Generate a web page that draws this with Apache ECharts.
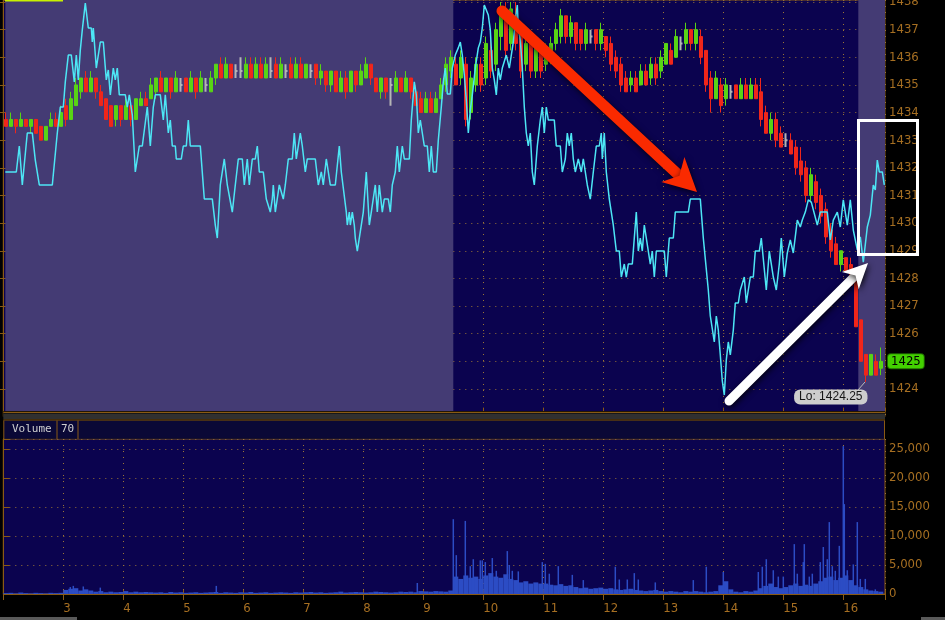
<!DOCTYPE html>
<html><head><meta charset="utf-8">
<script src="https://cdn.jsdelivr.net/npm/echarts@6.0.0/dist/echarts.min.js"></script>
<style>html,body{margin:0;padding:0;background:#000;}#c{width:945px;height:620px;}</style>
</head><body><div id="c"></div><script>
// ---------- DATA ----------
// 5-minute bars, starting 2:00 (minutes since 2:00)
const candleOpen = [
1433.75,1433.5,1433.75,1433.5,1433.75,1433.5,1433.75,1433.5,1433.0,1433.5,
1433.75,1433.5,1434.25,1433.75,1434.25,1434.75,1435.25,1434.75,1435.25,1434.75,
1434.5,1434.25,1433.75,1434.25,1433.75,1434.25,1433.75,1434.25,1434.5,1434.5,
1434.75,1435.25,1434.75,1435.25,1434.75,1435.0,1435.25,1434.75,1435.25,1434.75,
1435.0,1434.75,1435.25,1435.75,1435.25,1435.75,1435.5,1435.5,1435.25,1435.75,
1435.25,1435.75,1435.25,1435.5,1435.75,1435.25,1435.5,1435.75,1435.25,1435.75,
1435.25,1435.5,1435.75,1435.25,1435.5,1435.0,1435.5,1434.75,1435.25,1434.75,
1435.5,1435.0,1435.25,1435.75,1435.25,1434.75,1435.25,1435.0,1434.75,1435.25,
1434.75,1435.25,1434.75,1434.5,1434.0,1434.5,1434.0,1434.5,1435.0,1435.5,
1435.75,1435.25,1435.75,1434.0,1435.0,1435.75,1435.25,1436.25,1435.75,1436.75,
1437.5,1436.5,1437.5,1436.75,1435.75,1436.5,1435.5,1436.25,1435.75,1436.0,
1436.5,1436.75,1437.5,1436.75,1437.25,1437.0,1436.5,1436.75,1437.0,1436.5,
1436.75,1436.5,1436.0,1435.75,1435.25,1435.0,1435.25,1435.0,1435.5,1435.25,
1435.75,1435.5,1435.75,1436.25,1436.0,1436.5,1436.5,1437.0,1436.5,1436.75,
1436.25,1435.25,1434.5,1435.0,1434.5,1434.75,1435.0,1434.5,1435.0,1434.5,
1435.0,1434.75,1434.0,1433.25,1433.75,1433.25,1433.0,1433.0,1432.75,1432.25,
1432.0,1431.0,1431.5,1431.0,1430.5,1429.75,1429.25,1428.5,1428.75,1428.5,
1428.0,1426.5,1425.25,1424.5,1425.0,1424.75];
const candleClose = [
1433.5,1433.75,1433.5,1433.75,1433.5,1433.75,1433.25,1433.0,1433.5,1433.75,
1433.5,1434.0,1433.75,1434.5,1435.0,1435.25,1434.75,1435.25,1434.75,1434.25,
1433.75,1433.5,1434.25,1433.75,1434.25,1433.75,1434.5,1434.5,1434.25,1435.0,
1435.25,1434.75,1435.25,1434.75,1435.25,1435.0,1434.75,1435.25,1434.75,1435.25,
1435.0,1435.25,1435.75,1435.25,1435.75,1435.25,1435.5,1435.5,1435.75,1435.25,
1435.75,1435.25,1435.75,1435.5,1435.25,1435.75,1435.5,1435.25,1435.75,1435.25,
1435.75,1435.5,1435.25,1435.5,1435.0,1435.5,1434.75,1435.25,1434.75,1435.5,
1435.0,1435.5,1435.75,1435.25,1434.75,1435.25,1434.75,1435.0,1435.25,1434.75,
1435.25,1434.75,1434.25,1434.0,1434.5,1434.0,1434.5,1435.0,1435.75,1436.0,
1435.0,1436.0,1433.75,1435.25,1435.75,1435.0,1436.5,1435.5,1437.0,1437.5,
1436.25,1437.75,1436.5,1435.5,1436.5,1435.5,1436.5,1435.5,1436.25,1436.5,
1437.0,1437.5,1436.75,1437.25,1436.5,1436.5,1437.0,1436.75,1436.5,1437.0,
1436.25,1435.75,1435.5,1435.0,1434.75,1435.25,1434.75,1435.5,1435.0,1435.75,
1435.25,1436.0,1436.5,1435.75,1436.75,1436.5,1437.0,1436.5,1437.0,1436.0,
1435.0,1434.5,1435.25,1434.25,1435.0,1434.75,1434.5,1435.0,1434.5,1435.0,
1434.5,1433.75,1433.25,1433.75,1433.0,1432.75,1433.0,1432.5,1432.0,1431.75,
1431.0,1431.75,1430.75,1430.25,1429.5,1429.0,1428.5,1429.0,1428.25,1427.75,
1426.25,1425.0,1424.5,1425.25,1424.5,1425.0];
const candleLow = [
1433.5,1433.5,1433.25,1433.5,1433.5,1433.25,1433.25,1433.0,1433.0,1433.5,
1433.5,1433.5,1433.5,1433.75,1434.25,1434.5,1434.75,1434.75,1434.5,1434.25,
1433.75,1433.5,1433.5,1433.5,1433.75,1433.5,1433.75,1434.25,1434.25,1434.5,
1434.5,1434.75,1434.75,1434.5,1434.75,1434.75,1434.75,1434.75,1434.5,1434.75,
1434.75,1434.75,1435.0,1435.25,1435.25,1435.25,1435.25,1435.25,1435.25,1435.25,
1435.25,1435.25,1435.25,1435.25,1435.25,1435.25,1435.25,1435.25,1435.25,1435.25,
1435.25,1435.25,1435.0,1435.0,1434.75,1434.75,1434.75,1434.75,1434.5,1434.75,
1434.75,1435.0,1435.25,1435.0,1434.75,1434.5,1434.5,1434.25,1434.75,1434.75,
1434.75,1434.5,1434.25,1434.0,1434.0,1434.0,1434.0,1434.5,1434.75,1435.25,
1435.0,1435.0,1433.5,1433.75,1434.75,1434.75,1435.0,1435.25,1435.5,1436.25,
1436.0,1436.25,1436.25,1435.25,1435.5,1435.25,1435.25,1435.25,1435.5,1435.75,
1436.25,1436.5,1436.5,1436.5,1436.25,1436.25,1436.25,1436.5,1436.25,1436.25,
1436.0,1435.5,1435.25,1434.75,1434.75,1434.75,1434.75,1435.0,1435.0,1435.0,
1435.0,1435.25,1435.75,1435.75,1436.0,1436.25,1436.25,1436.25,1436.25,1435.75,
1434.75,1434.0,1434.5,1434.0,1434.25,1434.5,1434.5,1434.5,1434.5,1434.5,
1434.5,1433.5,1433.25,1433.0,1432.75,1432.75,1432.75,1432.5,1431.75,1431.5,
1430.75,1430.75,1430.5,1430.0,1429.25,1428.75,1428.5,1428.25,1428.25,1427.75,
1426.25,1425.0,1424.25,1424.5,1424.5,1424.5];
const candleHigh = [
1434.0,1434.0,1433.75,1434.0,1433.75,1433.75,1433.75,1433.5,1433.5,1434.0,
1434.0,1434.25,1434.5,1434.75,1435.25,1435.25,1435.5,1435.5,1435.25,1435.0,
1434.5,1434.25,1434.25,1434.25,1434.5,1434.25,1434.5,1434.75,1434.75,1435.25,
1435.25,1435.5,1435.25,1435.25,1435.5,1435.25,1435.25,1435.5,1435.25,1435.5,
1435.25,1435.5,1435.75,1436.0,1436.0,1435.75,1435.75,1436.0,1436.0,1436.0,
1436.0,1436.0,1436.0,1436.0,1436.0,1436.0,1435.75,1436.0,1436.0,1436.0,
1435.75,1435.75,1435.75,1435.75,1435.5,1435.5,1435.5,1435.5,1435.5,1435.5,
1435.5,1435.75,1436.0,1435.75,1435.25,1435.25,1435.25,1435.25,1435.5,1435.25,
1435.5,1435.25,1435.0,1434.75,1434.75,1434.75,1434.75,1435.25,1436.0,1436.25,
1436.0,1436.25,1436.0,1435.5,1436.0,1436.0,1436.75,1436.75,1437.25,1438.0,
1438.0,1438.0,1438.0,1437.0,1436.75,1436.5,1436.75,1436.5,1436.5,1436.75,
1437.25,1437.75,1437.5,1437.5,1437.25,1437.0,1437.25,1437.0,1437.0,1437.25,
1436.75,1436.75,1436.25,1436.0,1435.5,1435.5,1435.5,1435.75,1435.75,1436.0,
1436.0,1436.25,1436.5,1436.5,1437.0,1436.75,1437.25,1437.0,1437.25,1437.0,
1436.25,1435.5,1435.5,1435.25,1435.25,1435.0,1435.0,1435.25,1435.25,1435.25,
1435.25,1435.25,1434.25,1434.0,1434.0,1433.5,1433.25,1433.25,1433.0,1432.75,
1432.25,1432.0,1431.75,1431.25,1430.75,1430.0,1429.5,1429.0,1428.75,1428.75,
1428.25,1426.5,1425.25,1425.25,1425.25,1425.5];
// volume: 5-minute base level
const volBase = [
150,200,100,250,150,100,200,150,100,200,
150,200,700,900,1000,600,800,600,400,500,
300,400,300,350,500,300,400,300,350,300,
250,300,200,350,250,300,200,250,300,200,
250,300,350,200,300,250,200,300,250,350,
200,250,300,200,250,300,250,200,300,250,
300,350,250,300,200,250,300,400,250,300,
350,300,250,300,400,350,300,250,300,400,
350,400,300,500,450,400,500,450,400,600,
3000,2600,3200,2800,3000,2600,3200,3600,3000,2800,
3400,2600,2400,2000,2200,1800,2000,1800,1800,1600,
1500,1700,1400,1500,1200,1000,1100,900,1000,1100,
900,1000,800,700,800,900,700,600,500,600,
700,500,400,500,400,300,500,400,500,400,
300,400,500,1500,2200,800,400,300,500,400,
600,1000,1400,1800,1200,1000,1200,1500,1800,1400,
1600,1400,1800,2200,2800,3000,2400,2800,3200,2400,
1500,1200,800,600,500,400];
// individual volume spikes (minute since 2:00, volume)
const spikeTime = [67,70,80,97,213,414,450,453,462,467,470,477,479,482,489,493,504,506,509,515,539,542,546,555,569,580,612,616,624,631,635,652,690,703,720,755,759,763,770,775,780,791,794,800,801,806,809,817,820,824,826,829,832,836,840,841,844,850,854,857,862,872];
const spikeVol  = [1200,1400,1300,1100,1400,1900,12900,6700,12600,4800,6000,5800,5800,5500,6200,4000,7400,5000,4000,3900,5500,5200,3500,4800,3300,2400,4700,2500,2500,3600,2500,2000,2400,4700,3800,3800,4700,6000,4100,3000,3000,8600,3500,5500,8600,3000,3500,5500,8100,6000,12400,4800,4000,8300,25500,15500,4100,5100,12400,2600,2600,800];
// cyan indicator line (minute since 2:00, value on price scale)
const cyanTime = [2,13,16,19,24,29,32,34,36,49,54,57,60,62,65,68,71,73,75,77,79,82,85,88,89,90,93,97,100,103,105,107,110,112,114,116,122,124,126,129,132,136,139,144,147,150,152,157,160,162,165,167,169,172,173,178,180,183,185,187,197,201,209,212,214,217,221,224,226,229,232,235,239,241,244,246,249,252,254,256,260,263,265,267,269,270,272,274,276,278,280,282,285,289,291,293,297,299,301,302,304,312,315,317,318,320,323,325,327,332,336,338,340,343,344,346,347,349,351,352,354,356,358,360,363,366,368,370,372,374,376,379,381,385,387,389,392,394,396,399,401,406,408,411,413,415,417,419,421,424,426,428,430,433,435,438,440,442,444,447,449,452,455,457,459,461,463,465,467,469,472,475,477,479,481,483,485,487,489,491,493,495,497,499,501,503,506,508,510,512,514,515,517,519,521,523,525,527,529,531,534,537,539,541,543,545,551,553,557,559,562,564,566,568,570,572,575,578,580,582,584,587,590,593,596,598,599,601,603,606,610,613,616,618,621,623,625,629,631,633,635,637,639,641,643,645,647,649,651,653,661,663,666,670,672,685,687,697,700,705,707,709,711,713,715,717,719,721,723,725,727,730,732,735,737,739,741,743,745,747,750,752,756,758,760,763,766,768,770,773,776,778,781,784,787,790,794,797,799,802,805,808,810,814,817,824,827,830,834,837,840,844,847,850,854,857,860,864,867,870,872,874,876,879,881];
const cyanValue = [1431.85,1431.85,1432.79,1431.38,1433.26,1433.26,1432.28,1432.28,1431.38,1431.38,1433.26,1434.2,1434.2,1435.11,1436.08,1436.08,1435.11,1436.08,1435.18,1436.26,1436.99,1437.96,1437.06,1437.06,1436.55,1437.06,1435.61,1436.55,1436.55,1435.18,1435.54,1434.64,1435.61,1435.18,1435.61,1434.64,1434.64,1434.2,1434.64,1433.91,1431.85,1432.79,1432.79,1434.2,1432.79,1434.2,1434.64,1434.64,1433.73,1434.64,1433.26,1433.73,1432.79,1432.79,1432.32,1432.32,1432.79,1432.79,1433.73,1432.79,1432.79,1430.87,1430.87,1429.93,1429.46,1431.38,1432.32,1431.38,1431.38,1430.4,1431.38,1432.32,1432.32,1431.38,1432.32,1431.38,1432.32,1432.32,1432.79,1431.85,1431.85,1430.87,1430.87,1430.4,1430.87,1431.38,1430.4,1430.4,1431.38,1431.38,1430.87,1431.38,1432.32,1432.32,1433.26,1432.32,1433.26,1432.79,1432.79,1431.85,1432.32,1432.32,1431.38,1431.38,1431.85,1431.38,1432.32,1432.32,1431.38,1431.38,1432.79,1431.85,1431.85,1430.4,1429.93,1430.4,1429.93,1430.4,1429.93,1429.46,1428.99,1428.99,1429.93,1430.4,1431.85,1429.93,1430.4,1430.4,1431.38,1430.4,1431.38,1430.4,1430.87,1430.87,1430.4,1431.38,1431.85,1432.79,1431.85,1432.79,1432.32,1432.32,1433.73,1435.11,1434.64,1433.26,1433.73,1433.26,1432.79,1432.79,1431.85,1432.79,1431.85,1431.85,1433.0,1434.2,1435.11,1435.61,1434.67,1434.67,1435.61,1436.08,1436.34,1436.55,1436.08,1435.36,1434.45,1433.26,1434.09,1434.64,1435.61,1436.34,1436.55,1437.06,1437.89,1437.89,1437.53,1436.99,1435.61,1435.18,1434.64,1435.61,1435.18,1435.61,1435.61,1436.08,1435.61,1435.61,1436.55,1437.35,1437.89,1437.06,1436.63,1435.61,1434.2,1433.26,1432.79,1433.26,1431.85,1431.38,1432.79,1433.73,1434.2,1433.26,1434.2,1433.73,1433.73,1432.79,1432.79,1431.85,1432.32,1433.26,1432.79,1433.26,1432.32,1431.85,1432.32,1431.85,1432.32,1432.32,1431.38,1430.87,1431.85,1432.79,1432.79,1433.26,1432.32,1433.26,1431.85,1430.87,1429.93,1428.99,1428.99,1428.05,1428.52,1428.05,1428.52,1428.52,1429.46,1430.4,1428.99,1429.46,1428.99,1429.93,1429.93,1428.99,1428.52,1428.99,1428.05,1428.99,1428.99,1428.05,1429.46,1429.46,1430.4,1430.4,1430.87,1430.87,1429.46,1427.58,1426.64,1426.64,1425.7,1426.64,1426.13,1425.23,1424.29,1423.78,1425.05,1425.7,1425.23,1426.13,1427.11,1427.11,1427.58,1427.58,1428.05,1427.11,1427.58,1428.05,1428.05,1428.99,1428.99,1429.46,1429.46,1427.58,1428.99,1428.99,1428.05,1427.58,1428.52,1429.46,1428.05,1428.92,1429.39,1428.92,1430.11,1429.86,1430.11,1430.4,1430.84,1430.76,1430.76,1429.93,1430.4,1430.4,1429.39,1430.11,1430.4,1429.86,1430.84,1429.93,1430.84,1429.75,1429.03,1429.5,1428.59,1429.86,1430.29,1431.38,1431.2,1432.28,1431.85,1431.85,1431.38];
// session shading boundaries (minutes since 2:00): 9:30 and 16:15
const sessionOpen = 450, sessionClose = 855;

// ---------- STYLE ----------
const BAR_MIN = 5;
const X_MAX = 881.7;
const AX = '#8a5a14', LBL = '#a66f22', GRIDC = '#9a7436';
const LIGHT = '#443b74', DARK = '#0b034f';
const GREEN = '#58d415', RED = '#f0261a', GREY = '#b5b5b5';
const VOL = '#2c4cc4';
const LF = "'DejaVu Sans Condensed','Liberation Sans',sans-serif";
const isInt = v => Math.abs(v - Math.round(v)) < 1e-6;

const candleData = candleOpen.map((o, i) => {
  const c = candleClose[i];
  const item = { value: [i * BAR_MIN + BAR_MIN / 2, o, c, candleLow[i], candleHigh[i]] };
  if (o === c) item.itemStyle = { color: GREY, color0: GREY, borderColor: GREY, borderColor0: GREY, borderColorDoji: GREY, borderWidth: 2 };
  return item;
});
let lowIdx = 0;
candleLow.forEach((v, i) => { if (v < candleLow[lowIdx]) lowIdx = i; });
const lowVal = candleLow[lowIdx];
const lastClose = candleClose[candleClose.length - 1];

function arrowGraphic(x0, y0, x1, y1, w, hl, hw, color, shadowColor) {
  const dx = x1 - x0, dy = y1 - y0, L = Math.hypot(dx, dy), ux = dx / L, uy = dy / L, px = -uy, py = ux;
  const bx = x1 - ux * hl, by = y1 - uy * hl;
  const nx = bx + ux * hl * 0.2, ny = by + uy * hl * 0.2;
  const sh = { shadowBlur: 6, shadowColor: shadowColor, shadowOffsetX: 1, shadowOffsetY: 2 };
  return [
    { type: 'line', z: 100, shape: { x1: x0, y1: y0, x2: nx, y2: ny }, style: Object.assign({ stroke: color, lineWidth: w, lineCap: 'round' }, sh) },
    { type: 'polygon', z: 101, shape: { points: [[x1, y1], [bx + px * hw - ux * 3, by + py * hw - uy * 3], [nx, ny], [bx - px * hw - ux * 3, by - py * hw - uy * 3]] }, style: Object.assign({ fill: color }, sh) }
  ];
}

const xBase = { type: 'value', min: 0, max: X_MAX, interval: 60 };
const splitDots = { show: true, lineStyle: { color: GRIDC, width: 1, type: [1, 5] } };

const option = {
  backgroundColor: '#000',
  animation: false,
  grid: [
    { left: 3.3, top: 0, width: 881.7, height: 416.6, outerBoundsMode: 'none', containLabel: false, show: true, backgroundColor: DARK, borderColor: AX, borderWidth: 1 },
    { left: 3.3, top: 439, width: 881.7, height: 155, outerBoundsMode: 'none', containLabel: false, show: true, backgroundColor: DARK, borderColor: AX, borderWidth: 1 }
  ],
  xAxis: [
    Object.assign({}, xBase, { gridIndex: 0, offset: -5, axisLine: { show: false }, axisTick: { show: true, inside: true, length: 4, lineStyle: { color: AX } }, axisLabel: { show: false }, splitLine: splitDots }),
    Object.assign({}, xBase, { gridIndex: 1, position: 'bottom', axisLine: { show: true, lineStyle: { color: AX } }, axisTick: { show: true, inside: true, length: 4, lineStyle: { color: AX } },
      axisLabel: { show: true, color: LBL, fontSize: 13, fontFamily: LF, align: 'left', margin: 8, formatter: v => (isInt(v / 60) && v > 0) ? String(2 + Math.round(v / 60)) : '' },
      splitLine: splitDots }),
    Object.assign({}, xBase, { gridIndex: 1, position: 'top', axisLine: { show: false }, axisTick: { show: true, inside: true, length: 6, lineStyle: { color: AX } }, axisLabel: { show: false }, splitLine: { show: false } })
  ],
  yAxis: [
    { gridIndex: 0, type: 'value', position: 'right', min: 1423, max: 1438.072, interval: 1,
      axisLine: { show: true, lineStyle: { color: AX } }, axisTick: { show: true, inside: true, length: 5, lineStyle: { color: AX } },
      axisLabel: { color: LBL, fontSize: 13, fontFamily: LF, margin: 4, showMinLabel: false, showMaxLabel: false, formatter: v => (isInt(v) && v > 1423) ? String(Math.round(v)) : '' },
      splitLine: splitDots },
    { gridIndex: 0, type: 'value', position: 'left', min: 1423, max: 1438.072, interval: 1,
      axisLine: { show: true, lineStyle: { color: AX } }, axisTick: { show: true, inside: true, length: 6, lineStyle: { color: AX } }, axisLabel: { show: false }, splitLine: { show: false } },
    { gridIndex: 1, type: 'value', position: 'right', min: 0, max: 26724, interval: 5000,
      axisLine: { show: true, lineStyle: { color: AX } }, axisTick: { show: true, inside: false, length: 4, lineStyle: { color: AX } },
      axisLabel: { color: LBL, fontSize: 13, fontFamily: LF, margin: 4, showMaxLabel: false, formatter: v => (v % 5000 === 0) ? v.toLocaleString('en-US') : '' },
      splitLine: splitDots },
    { gridIndex: 1, type: 'value', position: 'left', min: 0, max: 26724, interval: 5000,
      axisLine: { show: true, lineStyle: { color: AX } }, axisTick: { show: true, inside: true, length: 6, lineStyle: { color: AX } }, axisLabel: { show: false }, splitLine: { show: false } }
  ],
  series: [
    {
      type: 'candlestick', name: 'Price', xAxisIndex: 0, yAxisIndex: 0, barWidth: 4, z: 3,
      dimensions: ['t', 'open', 'close', 'low', 'high'],
      encode: { x: 0, y: [1, 2, 3, 4] },
      data: candleData,
      itemStyle: { color: GREEN, color0: RED, borderColor: GREEN, borderColor0: RED, borderWidth: 1 },
      markArea: { silent: true, z: 1, itemStyle: { color: LIGHT }, data: [[{ xAxis: 2 }, { xAxis: sessionOpen }], [{ xAxis: sessionClose }, { xAxis: X_MAX }]] },
      markPoint: {
        silent: true, symbol: 'circle', symbolSize: 1, itemStyle: { color: 'rgba(0,0,0,0)' },
        data: [{ coord: [lowIdx * BAR_MIN + BAR_MIN / 2, lowVal], value: lowVal }],
        label: { show: true, position: 'inside', offset: [-35, 15], formatter: 'Lo: ' + lowVal.toFixed(2),
          backgroundColor: '#cdcdcd', borderRadius: 6, padding: [2, 5, 1, 5], color: '#151515', fontSize: 12, fontFamily: "'Liberation Sans',sans-serif" }
      },
      markLine: {
        silent: true, z: 20, symbol: ['none', 'none'], lineStyle: { color: 'rgba(0,0,0,0)', width: 0.01 },
        data: [{ yAxis: lastClose }],
        label: { show: true, position: 'end', distance: 3, formatter: String(lastClose), backgroundColor: '#43d100', color: '#000',
          padding: [1, 3, 0, 3], borderRadius: 3, borderColor: '#1f6a00', borderWidth: 1, fontSize: 13, fontFamily: LF }
      }
    },
    {
      type: 'line', name: 'Indicator', xAxisIndex: 0, yAxisIndex: 0, z: 5, showSymbol: false, silent: true,
      data: cyanTime.map((t, i) => [t, cyanValue[i]]),
      lineStyle: { color: '#4de6f5', width: 1.5 }
    },
    {
      type: 'bar', name: 'Volume', xAxisIndex: 1, yAxisIndex: 2, barWidth: 5, silent: true,
      data: volBase.map((v, i) => [i * BAR_MIN + BAR_MIN / 2, v]),
      itemStyle: { color: VOL }
    },
    {
      type: 'bar', name: 'VolumeSpikes', xAxisIndex: 2, yAxisIndex: 2, barWidth: 1.5, silent: true,
      data: spikeTime.map((t, i) => [t, spikeVol[i]]),
      itemStyle: { color: VOL }
    }
  ],
  graphic: [
    { type: 'rect', z: 100, shape: { x: 5, y: 0, width: 58, height: 1.5 }, style: { fill: '#c8f000' } },
    { type: 'rect', z: 100, shape: { x: 3.3, y: 411, width: 881.7, height: 10 }, style: { fill: '#000' } },
    { type: 'rect', z: 101, shape: { x: 3.3, y: 411.7, width: 881.7, height: 1.2 }, style: { fill: AX } },
    { type: 'rect', z: 101, shape: { x: 3.3, y: 413.4, width: 881.7, height: 5.6 }, style: { fill: '#303030' } },
    { type: 'rect', z: 101, shape: { x: 3.3, y: 419.4, width: 881.7, height: 1.2 }, style: { fill: AX } },
    { type: 'rect', z: 100, shape: { x: 3.8, y: 420.6, width: 880.7, height: 18.2 }, style: { fill: '#0a0836' } },
    { type: 'line', z: 101, shape: { x1: 3.8, y1: 420.5, x2: 3.8, y2: 439 }, style: { stroke: AX, lineWidth: 1 } },
    { type: 'line', z: 101, shape: { x1: 884.5, y1: 420.5, x2: 884.5, y2: 439 }, style: { stroke: AX, lineWidth: 1 } },
    { type: 'line', z: 101, shape: { x1: 57, y1: 420.5, x2: 57, y2: 439 }, style: { stroke: AX, lineWidth: 1 } },
    { type: 'line', z: 101, shape: { x1: 78, y1: 420.5, x2: 78, y2: 439 }, style: { stroke: AX, lineWidth: 1 } },
    { type: 'text', z: 102, style: { x: 12, y: 429.5, text: 'Volume', fill: '#cfcfcf', font: "11px 'DejaVu Sans Mono',monospace", verticalAlign: 'middle' } },
    { type: 'text', z: 102, style: { x: 61, y: 429.5, text: '70', fill: '#cfcfcf', font: "11px 'DejaVu Sans Mono',monospace", verticalAlign: 'middle' } },
    { type: 'rect', z: 102, shape: { x: 858.5, y: 120.5, width: 59, height: 134 }, style: { fill: 'none', stroke: '#ffffff', lineWidth: 3 } },
    { type: 'line', z: 102, shape: { x1: 858, y1: 390, x2: 865, y2: 382 }, style: { stroke: '#bdbdbd', lineWidth: 1 } },
    { type: 'rect', z: 100, shape: { x: 0, y: 617, width: 77, height: 3 }, style: { fill: '#5a5a5a' } },
    { type: 'rect', z: 100, shape: { x: 921, y: 617, width: 24, height: 3 }, style: { fill: '#5a5a5a' } }
  ].concat(arrowGraphic(502, 11, 697, 192, 11, 30, 17, '#fa2a00', 'rgba(0,0,0,0.7)'))
   .concat(arrowGraphic(729, 401, 868, 263, 9, 22, 12, '#ffffff', 'rgba(0,0,0,0.85)'))
};

const chart = echarts.init(document.getElementById('c'), null, { renderer: 'canvas' });
chart.setOption(option);
</script></body></html>
